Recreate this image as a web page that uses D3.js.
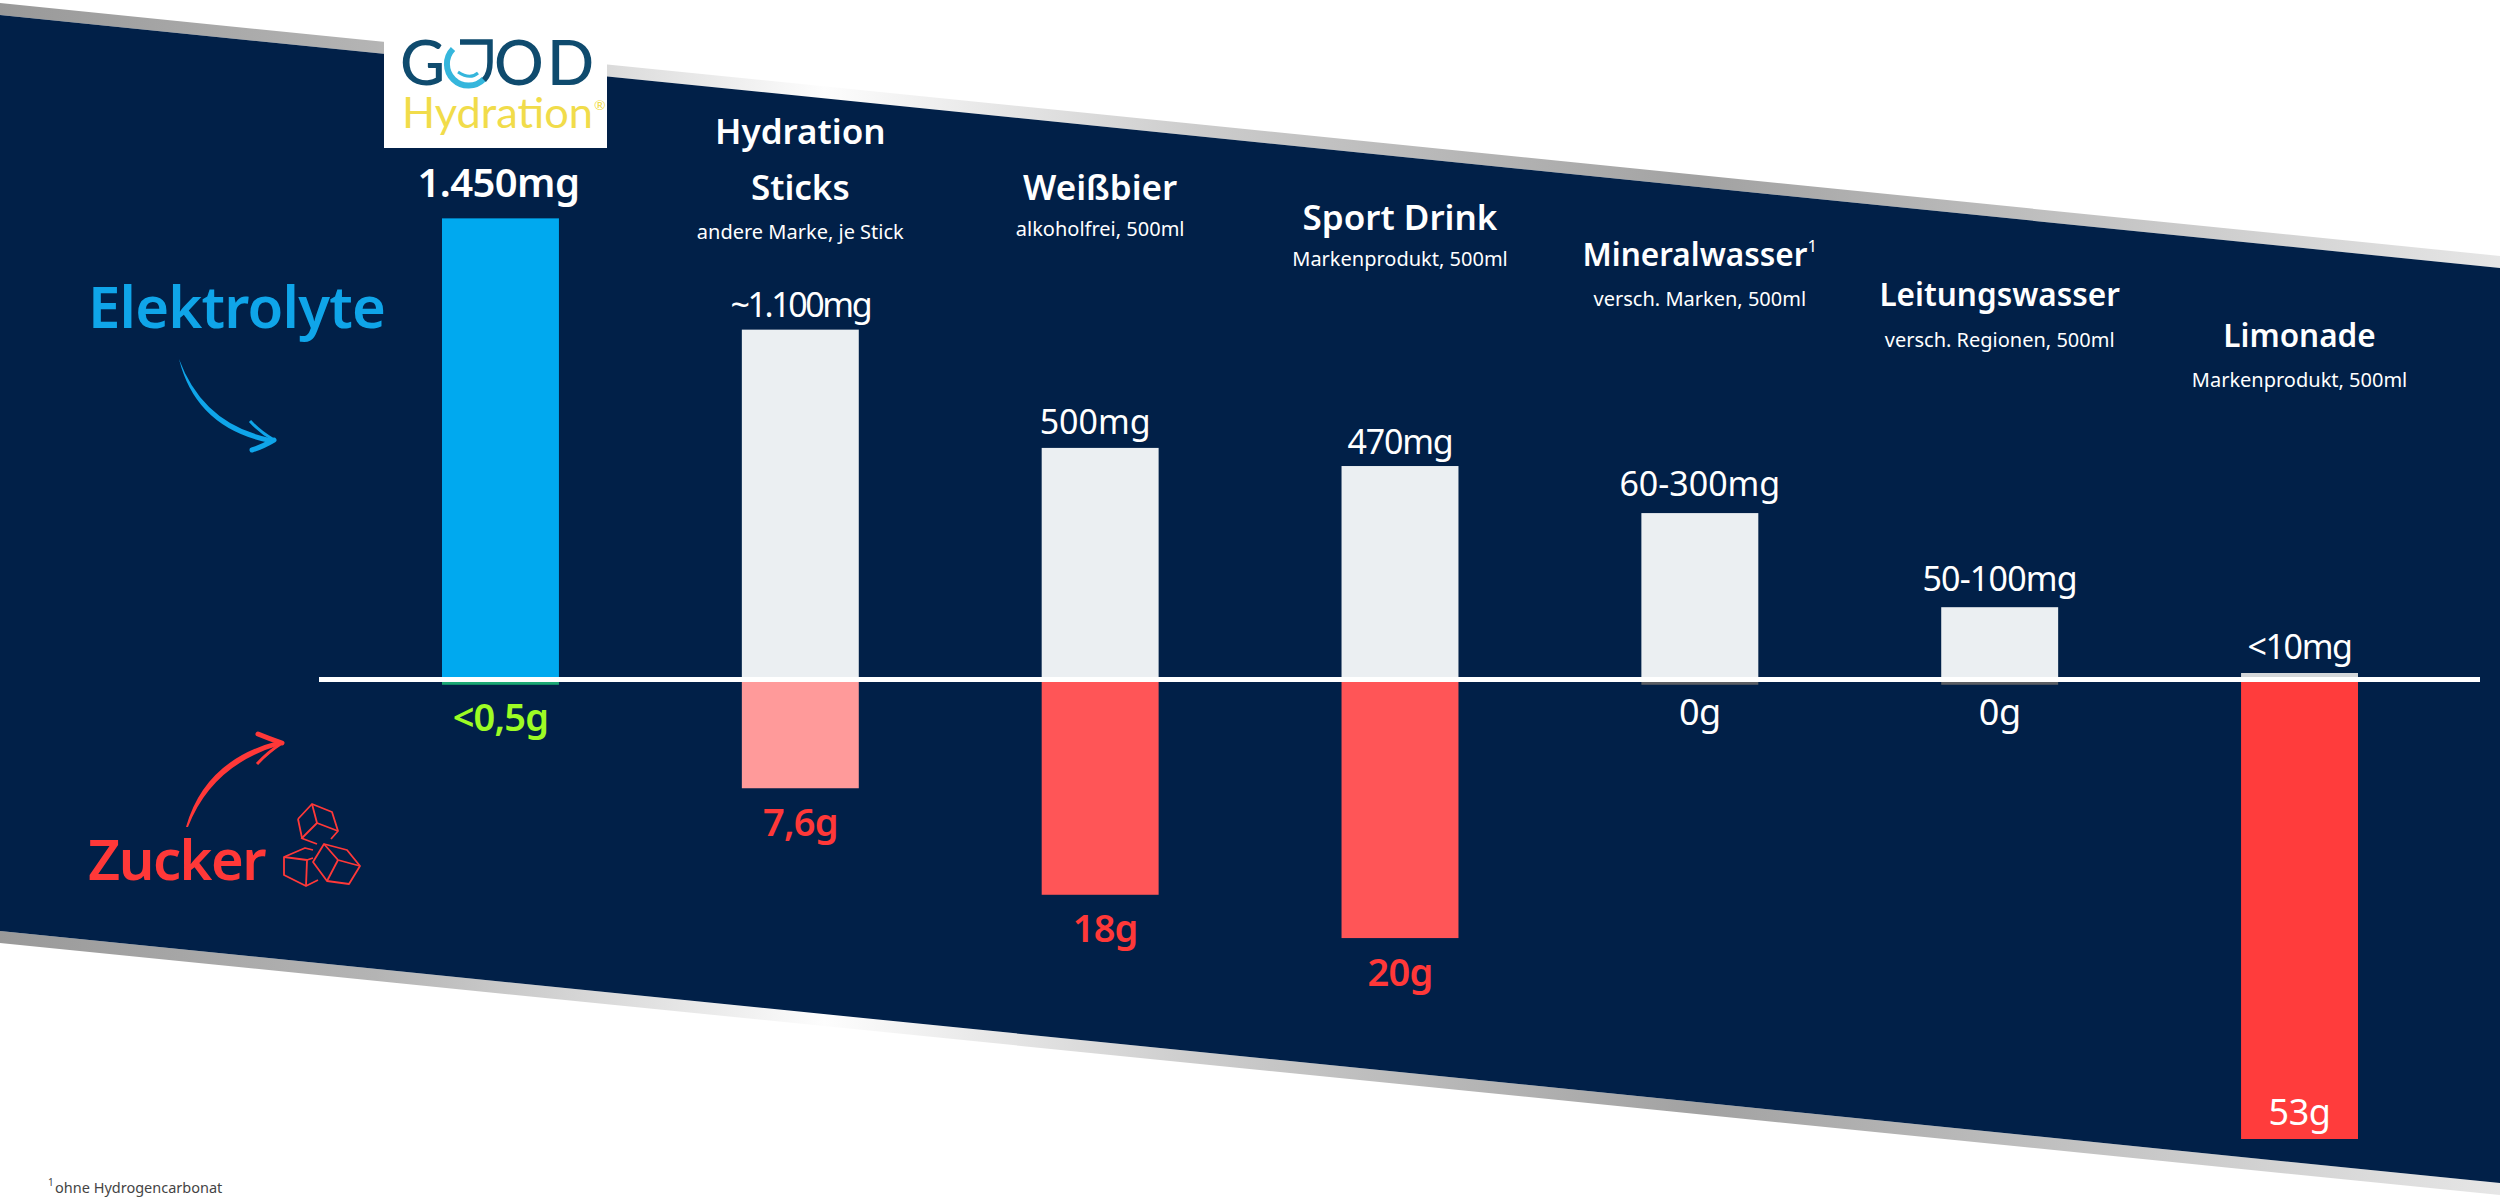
<!DOCTYPE html>
<html>
<head>
<meta charset="utf-8">
<script src="https://cdn.jsdelivr.net/npm/d3@7"></script>
<style>
  html, body { margin: 0; padding: 0; background: #fff; }
  text { font-family: "Noto Sans", sans-serif; }
</style>
</head>
<body>
<div id="my_dataviz"></div>
<script>
// data
var categories = ["Good Hydration", "Hydration Sticks", "Weißbier", "Sport Drink", "Mineralwasser", "Leitungswasser", "Limonade"];
var titleLines = [[], ["Hydration", "Sticks"], ["Weißbier"], ["Sport Drink"], ["Mineralwasser"], ["Leitungswasser"], ["Limonade"]];
var subtitles = ["", "andere Marke, je Stick", "alkoholfrei, 500ml", "Markenprodukt, 500ml", "versch. Marken, 500ml", "versch. Regionen, 500ml", "Markenprodukt, 500ml"];
var electrolyteLabels = ["1.450mg", "~1.100mg", "500mg", "470mg", "60-300mg", "50-100mg", "<10mg"];
var sugarLabels = ["<0,5g", "7,6g", "18g", "20g", "0g", "0g", "53g"];
// the source does not draw its bars to scale with the labels,
// so these are read from the bar heights in the picture
var electrolyteDrawn = [1452, 1102, 730, 673, 525, 229, 22];
var sugarDrawn = [0.55, 12.5, 24.8, 29.8, 0.55, 0.55, 53];

var electrolyteFill = ["#00a9ef", "#ebeff2", "#ebeff2", "#ebeff2", "#ebeff2", "#ebeff2", "#d3d6d9"];
var sugarFill = ["#1ba874", "#ff9a9a", "#ff5557", "#ff5557", "#5c5f64", "#5c5f64", "#ff3c3c"];

// dimensions
var width = 2500, height = 1200, baseY = 680;
var navy = "#012048", red = "#ff3838", blue = "#0fa5e9";

var svg = d3.select("#my_dataviz")
  .append("svg")
    .attr("width", width)
    .attr("height", height)
    .style("display", "block");

// scales
var x = d3.scaleBand().domain(categories).range([442, 2358]).paddingInner(0.61).paddingOuter(0);
var yUp = d3.scaleLinear().domain([0, 1450]).range([baseY, 219]);
var yDown = d3.scaleLinear().domain([0, 53]).range([baseY, 1139]);
function cx(i) { return x(categories[i]) + x.bandwidth() / 2; }

// silver edge gradient
var defs = svg.append("defs");
var edge = defs.append("linearGradient").attr("id", "edge")
    .attr("gradientUnits", "userSpaceOnUse")
    .attr("x1", 0).attr("y1", 0).attr("x2", width).attr("y2", 0);
[[0, "#999999"], [0.15, "#b4b4b4"], [0.25, "#dddddd"], [0.33, "#fdfdfd"], [0.48, "#cccccc"], [0.68, "#a2a2a2"], [1, "#e6e6e6"]]
  .forEach(function(s) { edge.append("stop").attr("offset", s[0]).attr("stop-color", s[1]); });

// background
svg.append("polygon").attr("points", "0,3 2500,256 2500,268 0,15").attr("fill", "url(#edge)");
svg.append("polygon").attr("points", "0,931 2500,1183 2500,1195 0,943").attr("fill", "url(#edge)");
svg.append("polygon").attr("points", "0,15 2500,268 2500,1183 0,931").attr("fill", navy);

// bars
svg.selectAll(".up").data(electrolyteDrawn).enter().append("rect")
    .attr("class", "up")
    .attr("x", function(d, i) { return x(categories[i]); })
    .attr("y", function(d) { return yUp(d); })
    .attr("width", x.bandwidth())
    .attr("height", function(d) { return baseY - yUp(d); })
    .attr("fill", function(d, i) { return electrolyteFill[i]; });

svg.selectAll(".down").data(sugarDrawn).enter().append("rect")
    .attr("class", "down")
    .attr("x", function(d, i) { return x(categories[i]); })
    .attr("y", baseY)
    .attr("width", x.bandwidth())
    .attr("height", function(d) { return yDown(d) - baseY; })
    .attr("fill", function(d, i) { return sugarFill[i]; });

// zero line
svg.append("rect").attr("x", 319).attr("y", 677).attr("width", 2161).attr("height", 5).attr("fill", "#fff");

// logo
svg.append("rect").attr("x", 384).attr("y", 30).attr("width", 223).attr("height", 118).attr("fill", "#fff");
var logo = svg.append("text").attr("y", 85).attr("font-size", 62).attr("fill", "#0f4b6e")
    .style("font-family", "Lato").style("font-weight", 500);
logo.append("tspan").attr("x", 400).text("G");
logo.append("tspan").attr("x", 444).attr("fill", "none").text("O");
logo.append("tspan").attr("x", 494).text("O");
logo.append("tspan").attr("x", 547).text("D");
// drop in the first O
svg.append("path").attr("d", "M453,49 A21,21 0 1 0 484,79").attr("fill", "none").attr("stroke", "#35b6dc").attr("stroke-width", 6);
svg.append("path").attr("d", "M460,42 L490,42 L490,62 Q490,74 484,80").attr("fill", "none").attr("stroke", "#0f4b6e").attr("stroke-width", 5.5);
svg.append("path").attr("d", "M458,72 Q470,80 478,73").attr("fill", "none").attr("stroke", "#35b6dc").attr("stroke-width", 3);
svg.append("text").attr("x", 402).attr("y", 128).attr("font-size", 42).attr("fill", "#f1dc4a")
    .attr("textLength", 191).attr("lengthAdjust", "spacingAndGlyphs")
    .style("font-family", "Lato").text("Hydration");
svg.append("text").attr("x", 594).attr("y", 110).attr("font-size", 14).attr("fill", "#f1dc4a")
    .style("font-family", "Lato").text("®");

// headings, positions follow the slanted band
var titleY = [0, 144, 200, 230, 266, 306, 347];
var subY = [0, 239, 236, 266, 306, 347, 387];
var titleSize = [0, 35, 35, 35, 31.5, 31.5, 31.5];
var lineGap = 56;
titleLines.forEach(function(lines, i) {
  lines.forEach(function(line, j) {
    var t = svg.append("text").attr("class", "title")
        .attr("x", cx(i)).attr("y", titleY[i] + j * lineGap)
        .attr("text-anchor", "middle").attr("font-size", titleSize[i]).attr("font-weight", 600).attr("fill", "#fff")
        .text(line);
    // footnote mark
    if (line == "Mineralwasser") t.append("tspan").attr("dy", -14).attr("font-size", 17).attr("font-weight", 400).text("1");
  });
  if (subtitles[i]) {
    svg.append("text").attr("class", "sub")
        .attr("x", cx(i)).attr("y", subY[i])
        .attr("text-anchor", "middle").attr("font-size", 20).attr("fill", "#fff")
        .text(subtitles[i]);
  }
});

// electrolyte labels
var upGap = [21, 13, 14, 12, 17, 16, 14];
var upDx = [-2, 0, -5, 0, 0, 0, 0];
var upSpacing = [-0.6, -2.4, 0, -1.2, 0, -0.8, -1.4];
svg.selectAll(".upLabel").data(electrolyteLabels).enter().append("text")
    .attr("class", "upLabel")
    .attr("x", function(d, i) { return cx(i) + upDx[i]; })
    .attr("y", function(d, i) { return yUp(electrolyteDrawn[i]) - upGap[i]; })
    .attr("text-anchor", "middle")
    .attr("font-size", function(d, i) { return i == 0 ? 40 : 34; })
    .attr("font-weight", function(d, i) { return i == 0 ? 600 : 400; })
    .attr("letter-spacing", function(d, i) { return upSpacing[i]; })
    .attr("fill", "#fff")
    .text(function(d) { return d; });

// sugar labels
var sugarLabelFill = ["#9dfc24", red, red, red, "#fff", "#fff", "#fff"];
var downGap = [46, 48, 47, 48, 40, 40, -14];
var downDx = [0, 0, 5, 0, 0, 0, 0];
svg.selectAll(".downLabel").data(sugarLabels).enter().append("text")
    .attr("class", "downLabel")
    .attr("x", function(d, i) { return cx(i) + downDx[i]; })
    .attr("y", function(d, i) { return yDown(sugarDrawn[i]) + downGap[i]; })
    .attr("text-anchor", "middle")
    .attr("font-size", function(d, i) { return i < 4 ? 38 : 36; })
    .attr("font-weight", function(d, i) { return i < 4 ? 600 : 400; })
    .attr("letter-spacing", function(d, i) { return i < 4 ? -0.8 : -0.5; })
    .attr("fill", function(d, i) { return sugarLabelFill[i]; })
    .text(function(d) { return d; });

// side captions
svg.append("text").attr("x", 88).attr("y", 328).attr("font-size", 58).attr("font-weight", 600).attr("letter-spacing", -0.8).attr("fill", blue).text("Elektrolyte");
svg.append("text").attr("x", 88).attr("y", 880).attr("font-size", 56).attr("font-weight", 600).attr("letter-spacing", -1.5).attr("fill", red).text("Zucker");

// arrows
svg.append("path").attr("d", "M179,359 Q203,424 270,438 L270,443 Q196,428 179,359 Z").attr("fill", blue);
svg.append("path").attr("d", "M250,421 Q260,432 274,440").attr("fill", "none").attr("stroke", blue).attr("stroke-width", 3);
svg.append("path").attr("d", "M274,440 Q262,447 252,450").attr("fill", "none").attr("stroke", blue).attr("stroke-width", 5).attr("stroke-linecap", "round");

svg.append("path").attr("d", "M186,827 Q205,760 278,741 L280,745 Q212,765 188,827 Z").attr("fill", red);
svg.append("path").attr("d", "M258,734 Q270,739 282,743").attr("fill", "none").attr("stroke", red).attr("stroke-width", 5).attr("stroke-linecap", "round");
svg.append("path").attr("d", "M282,743 Q268,752 257,764").attr("fill", "none").attr("stroke", red).attr("stroke-width", 3);

// sugar cubes
var cubes = [
  "M301,838 L317,844",
  "M298,819 L312,804 L332,812 L338,831 L331,839",
  "M298,819 L302,838",
  "M312,804 L317,823 L338,831",
  "M317,823 L302,838",
  "M313,850 L305,848 L284,857 L284,875 L306,886 L318,880",
  "M284,857 L307,860 L306,886",
  "M307,860 L313,858",
  "M313,862 L324,844 L347,850 L360,866 L349,884 L327,881 Z",
  "M324,844 L338,860 L360,866",
  "M338,860 L327,881"
];
svg.selectAll(".cube").data(cubes).enter().append("path")
    .attr("class", "cube")
    .attr("d", function(d) { return d; })
    .attr("fill", "none").attr("stroke", red).attr("stroke-width", 1.8).attr("stroke-linejoin", "round");

// footnote
svg.append("text").attr("x", 48).attr("y", 1186).attr("font-size", 10).attr("fill", "#444").text("1");
svg.append("text").attr("x", 55).attr("y", 1193).attr("font-size", 14.5).attr("fill", "#444").text("ohne Hydrogencarbonat");
</script>
</body>
</html>
